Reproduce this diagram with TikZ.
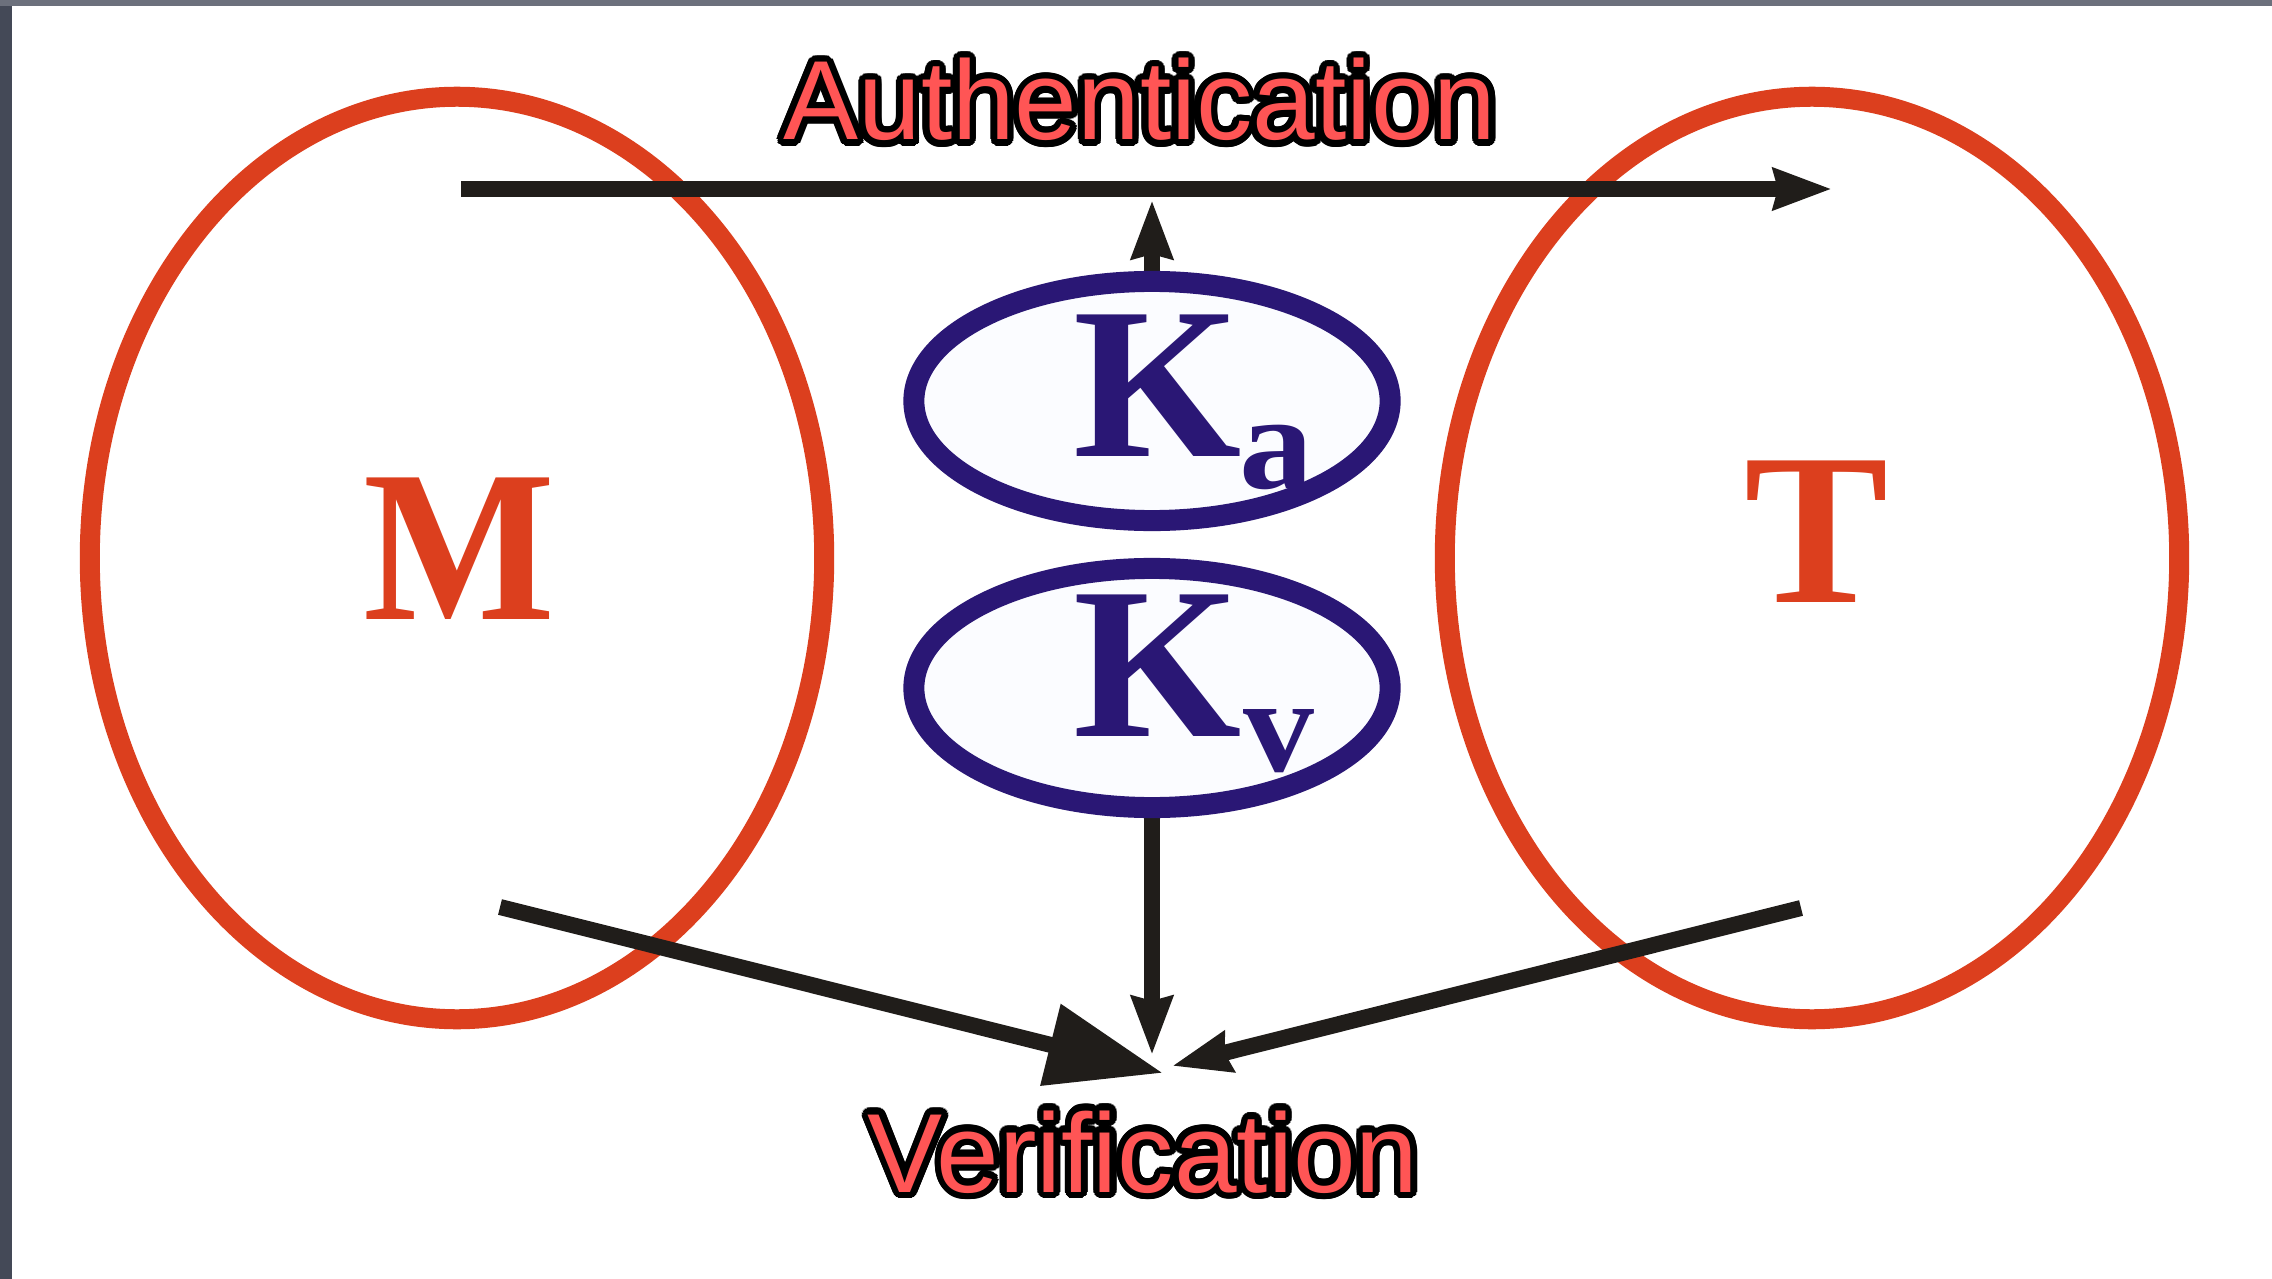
\documentclass[tikz,border=0pt]{standalone}
\usepackage{fontspec}
\usetikzlibrary{shapes.geometric,arrows.meta}
\newfontfamily\serifbf{Liberation Serif}
\newfontfamily\sansrg{Liberation Sans}
\definecolor{redc}{HTML}{DC3F1E}
\definecolor{navy}{HTML}{2A1775}
\definecolor{textred}{HTML}{FF5555}
\definecolor{arrowc}{HTML}{201D1A}
\definecolor{kfill}{HTML}{FBFCFF}
\definecolor{leftgray}{HTML}{444957}
\definecolor{topgray}{HTML}{6C707C}
\begin{document}
\begin{tikzpicture}[x=0.01cm,y=-0.01cm,
  redell/.style={draw=redc, line width=0.2cm, ellipse, inner sep=0pt, minimum width=7.34cm, minimum height=9.22cm},
  keyell/.style={draw=navy, fill=kfill, line width=0.21cm, ellipse, inner sep=0pt, minimum width=4.76cm, minimum height=2.39cm},
  bigletter/.style={inner sep=0pt, anchor=base, text=redc, font=\serifbf\bfseries\fontsize{61.5pt}{62pt}\selectfont},
  keyletter/.style={inner sep=0pt, anchor=base, text=navy, font=\serifbf\bfseries\fontsize{61.5pt}{62pt}\selectfont},
  subletter/.style={inner sep=0pt, anchor=base, text=navy, font=\serifbf\bfseries\fontsize{38.4pt}{39pt}\selectfont},
  lbl/.style={inner sep=0pt, anchor=base, font=\sansrg\fontsize{32pt}{33pt}\selectfont},
  conn/.style={draw=arrowc, line width=0.16cm},
  tipstd/.style={-{Stealth[length=0.58cm, width=0.4cm, inset=0.04cm]}},
  tipbig/.style={-{Triangle[length=1.16cm, width=0.8cm]}}
]
\useasboundingbox (0,0) rectangle (2272,1279);
\fill[white] (0,0) rectangle (2272,1279);
\fill[leftgray] (0,0) rectangle (12,1279);
\fill[topgray] (0,0) rectangle (2272,6);

% sets
\node[redell] (mset) at (457,558) {};
\node[redell] (tset) at (1812,558) {};
\node[bigletter, xscale=0.94] (mlab) at (459,619) {M};
\node[bigletter] (tlab) at (1817,602) {T};

% connector ends
\coordinate (authStart) at (461,189);
\coordinate (authTip) at (1832,189);
\coordinate (upTip) at (1152,200);
\coordinate (downTip) at (1152,1055);
\coordinate (ldStart) at (500,907);
\coordinate (ldTip) at (1163,1073);
\coordinate (rdStart) at (1801,908);
\coordinate (rdTip) at (1172,1066);
\coordinate (kaTop) at (1152,290);
\coordinate (kvBot) at (1152,800);

\draw[conn,tipstd] (authStart) -- (authTip);
\draw[conn,tipstd] (kaTop) -- (upTip);
\draw[conn,tipstd] (kvBot) -- (downTip);
\draw[conn,tipbig] (ldStart) -- (ldTip);
\draw[conn,tipstd] (rdStart) -- (rdTip);

% keys
\node[keyell] (ka) at (1152,401) {};
\node[keyell] (kv) at (1152,688) {};
\node[keyletter] (kaK) at (1158,456) {K};
\node[subletter, xscale=1.1] (kaSub) at (1277,488) {a};
\node[keyletter] (kvK) at (1158,736) {K};
\node[subletter, xscale=1.05] (kvSub) at (1279,771) {v};

% outlined labels
\foreach \ang in {0,15,...,345}{
  \node[lbl, text=black] at ([shift={(\ang:0.065cm)}]1140,140) {Authentication};
  \node[lbl, text=black] at ([shift={(\ang:0.065cm)}]1143,1192) {Verification};
}
\node[lbl, text=textred] (auth) at (1140,140) {Authentication};
\node[lbl, text=textred] (verif) at (1143,1192) {Verification};
\end{tikzpicture}
\end{document}
